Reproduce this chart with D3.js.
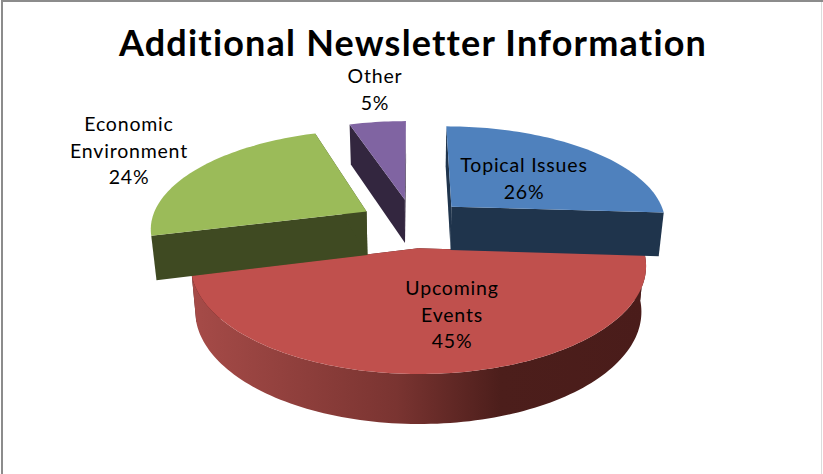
<!DOCTYPE html>
<html>
<head>
<meta charset="utf-8">
<title>Additional Newsletter Information</title>
<script src="https://cdn.jsdelivr.net/npm/d3@7"></script>
<style>
	html, body { margin: 0; padding: 0; background: #fff; }
	svg { display: block; }
	text { font-family: Lato, "Open Sans", sans-serif; fill: #000; font-variant-ligatures: none; }
</style>
</head>
<body>
<div id="root"></div>
<script>
const TITLE = "Additional Newsletter Information"
const categories = ["Topical Issues", "Upcoming Events", "Economic Environment", "Other"]
const values = [26, 45, 24, 5]
const labelLines = [["Topical Issues"], ["Upcoming", "Events"], ["Economic", "Environment"], ["Other"]]

const topColors = ["#4f81bd", "#c0504d", "#9bbb59", "#8064a2"]
const wallColors = ["#1f344c", "#4a1c1a", "#3f4a22", "#33263f"]

const width = 823, height = 474

// ground plane -> screen, the perspective was fitted against the slice corners
const cx = 413, cy = 223
const radiusX = 216, radiusY = 97.5, perspective = 0.155
const explode = 0.25, depth = 44, shrinkX = 0.98, shrinkY = 0.97

// paint red first, the others sit over its back edge
const drawOrder = [1, 3, 2, 0]
// label centre x and first baseline
const labelAnchors = [[524, 172], [452, 295], [129, 131], [375, 83]]
const lineStep = 26.5

function project(u, v, bottom) {
	const s = 1 / (1 + perspective * v)
	const x = u * radiusX * s, y = -v * radiusY * s
	if (!bottom) return [cx + x, cy + y]
	return [cx + x * shrinkX, cy + y * shrinkY + depth * s]
}

const svg = d3.select("#root").append("svg")
	.attr("width", width)
	.attr("height", height)
	.attr("viewBox", `0 0 ${width} ${height}`)

const grad = svg.append("defs").append("linearGradient")
	.attr("id", "redWall")
grad.selectAll("stop")
	.data([[0, "#a64b48"], [0.45, "#7a3431"], [0.68, "#4c1e1b"], [1, "#4a1c1a"]])
	.enter().append("stop")
	.attr("offset", d => d[0])
	.attr("stop-color", d => d[1])

const pie = d3.pie().sort(null).value(d => d)
const slices = pie(values)
const line = d3.line()

function arcAngles(d) {
	const n = Math.max(8, Math.ceil((d.endAngle - d.startAngle) * 40))
	return d3.range(n + 1).map(i => d.startAngle + (d.endAngle - d.startAngle) * i / n)
}

function drawSlice(g, d, i) {
	const mid = (d.startAngle + d.endAngle) / 2
	const ou = explode * Math.sin(mid), ov = explode * Math.cos(mid)
	const rim = (a, bottom) => project(ou + Math.sin(a), ov + Math.cos(a), bottom)
	const apex = bottom => project(ou, ov, bottom)
	const angles = arcAngles(d)

	// radial walls
	;[d.startAngle, d.endAngle].forEach(a => {
		g.append("path")
			.attr("d", line([apex(false), rim(a, false), rim(a, true), apex(true)]) + "Z")
			.attr("fill", wallColors[i])
	})

	// curved wall only when it faces us
	if (Math.cos(mid) < 0) {
		const pts = angles.map(a => rim(a, false)).concat(angles.slice().reverse().map(a => rim(a, true)))
		g.append("path")
			.attr("d", line(pts) + "Z")
			.attr("fill", "url(#redWall)")
	}

	g.append("path")
		.attr("d", line([apex(false)].concat(angles.map(a => rim(a, false)))) + "Z")
		.attr("fill", topColors[i])
}

const sliceG = svg.append("g")
drawOrder.forEach(i => {
	drawSlice(sliceG.append("g").attr("class", "slice").attr("data-name", categories[i]), slices[i], i)
})

// frame: heavy top and left, faint right
svg.append("path")
	.attr("d", `M2 ${height}V1H${width}`)
	.attr("fill", "none")
	.attr("stroke", "#8c8c8c")
	.attr("stroke-width", 2)
svg.append("path")
	.attr("d", `M821.5 2V${height}`)
	.attr("fill", "none")
	.attr("stroke", "#dcdcdc")
	.attr("stroke-width", 1)

svg.append("text")
	.attr("x", 413)
	.attr("y", 56)
	.attr("text-anchor", "middle")
	.style("font-size", "36px")
	.style("font-weight", 700)
	.style("letter-spacing", "1.2px")
	.text(TITLE)

labelLines.forEach((lines, i) => {
	const t = svg.append("text")
		.attr("text-anchor", "middle")
		.style("font-size", "19.5px")
		.style("letter-spacing", "0.8px")
	lines.concat(values[i] + "%").forEach((s, k) => {
		t.append("tspan")
			.attr("x", labelAnchors[i][0])
			.attr("y", labelAnchors[i][1] + k * lineStep)
			.text(s)
	})
})
</script>
</body>
</html>
